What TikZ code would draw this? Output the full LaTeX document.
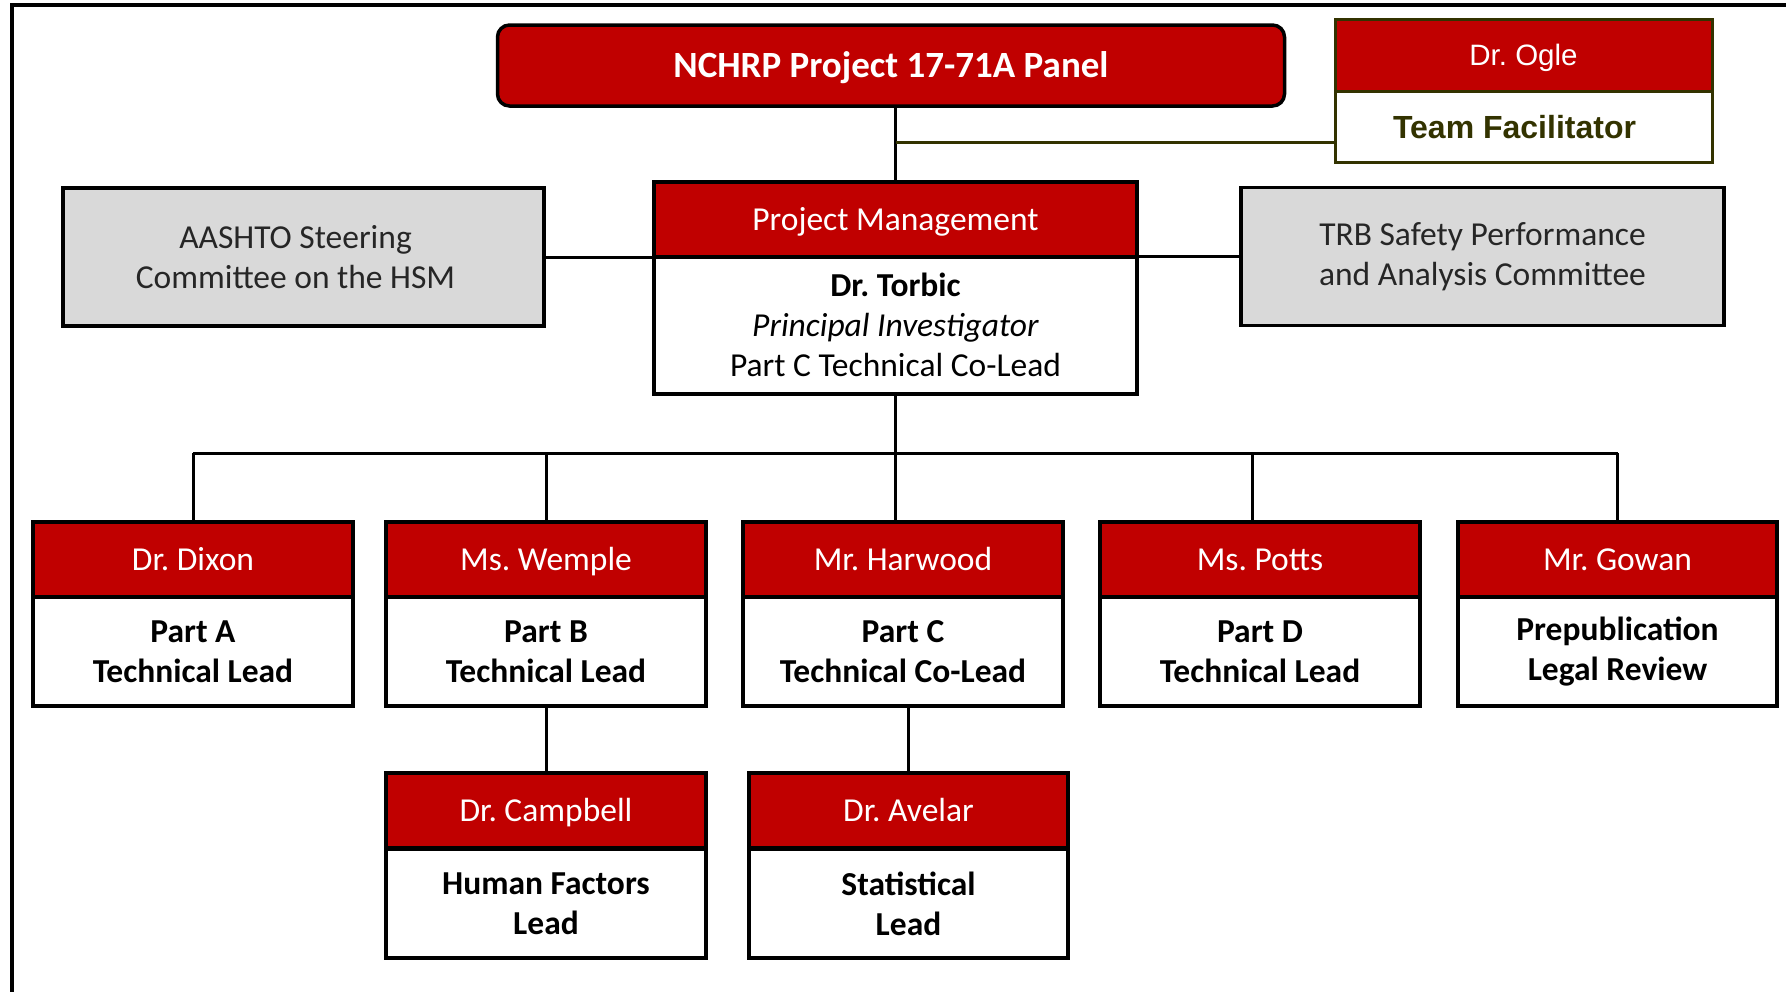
\documentclass[tikz,border=0pt]{standalone}
\usepackage{fontspec}
\setmainfont{Carlito}
\newfontfamily\arialf{Liberation Sans}
\definecolor{hdr}{HTML}{C00000}
\definecolor{gry}{HTML}{D9D9D9}
\definecolor{olv}{HTML}{333300}
\definecolor{dgr}{HTML}{262626}
\begin{document}
\frenchspacing
\begin{tikzpicture}[x=1pt,y=-1pt,
  box/.style={draw=black, line width=3.5pt, rectangle, inner sep=0pt, align=center},
  hdrbox/.style={box, fill=hdr, text=white, minimum height=75pt, text height=21.5pt, text depth=0pt,
    font=\fontsize{33.5}{40}\selectfont},
  bodybox/.style={box, fill=white, minimum height=109pt, font=\bfseries\fontsize{33.5}{40}\selectfont},
  graybox/.style={box, fill=gry, text=dgr, minimum width=481pt, minimum height=138pt, font=\fontsize{33.5}{40}\selectfont},
  conn/.style={line width=3pt, draw=black}]
\useasboundingbox (0,0) rectangle (1786,991);
\draw[line width=3.5pt] (12,995) -- (12,5) -- (1790,5);

% top panel
\node[box, rounded corners=12pt, fill=hdr, text=white, minimum width=787pt, minimum height=81pt,
  text height=24pt, text depth=0pt,
  font=\bfseries\fontsize{37}{44}\selectfont] (panel) at (891,65.5) {NCHRP Project 17-71A Panel};

% Dr. Ogle
\node[box, draw=olv, line width=3pt, fill=white, text=olv, minimum width=377pt, minimum height=71pt,
  text height=23pt, text depth=0pt,
  font=\arialf\bfseries\fontsize{32}{38}\selectfont] (ogleB) at (1523.5,126.5) {Team Facilitator\kern18pt};
\node[box, draw=olv, line width=3pt, fill=hdr, text=white, minimum width=377pt, minimum height=72pt,
  text height=21pt, text depth=0pt,
  font=\arialf\fontsize{29.5}{35}\selectfont] (ogleH) at (1523.5,55) {Dr. Ogle};

% project management
\node[bodybox, minimum width=483pt, minimum height=138pt, font=\fontsize{33.5}{40}\selectfont] (pmB) at (895.5,325)
  {\textbf{Dr. Torbic}\\\textit{Principal Investigator}\\Part C Technical Co-Lead};
\node[hdrbox, minimum width=483pt] (pmH) at (895.5,219.5) {Project Management};

% side committees
\node[graybox] (aashto) at (303.5,257) {AASHTO Steering\kern16pt\\Committee on the HSM\kern16pt};
\node[graybox, minimum width=483pt] (trb) at (1482.5,256.5) {TRB Safety Performance\\and Analysis Committee};

% row of leads
\node[bodybox, minimum width=320pt] (dixB) at (193,651.5) {Part A\\Technical Lead};
\node[hdrbox, minimum width=320pt] (dixH) at (193,559.5) {Dr. Dixon};
\node[bodybox, minimum width=320pt] (wemB) at (546,651.5) {Part B\\Technical Lead};
\node[hdrbox, minimum width=320pt] (wemH) at (546,559.5) {Ms. Wemple};
\node[bodybox, minimum width=320pt] (harB) at (903,651.5) {Part C\\Technical Co-Lead};
\node[hdrbox, minimum width=320pt] (harH) at (903,559.5) {Mr. Harwood};
\node[bodybox, minimum width=320pt] (potB) at (1260,651.5) {Part D\\Technical Lead};
\node[hdrbox, minimum width=320pt] (potH) at (1260,559.5) {Ms. Potts};
\node[bodybox, minimum width=319pt] (gowB) at (1617.5,651.5) {Prepublication\\Legal Review};
\node[hdrbox, minimum width=319pt] (gowH) at (1617.5,559.5) {Mr. Gowan};

% second row
\node[bodybox, minimum width=320pt] (camB) at (546,903.5) {Human Factors\\Lead};
\node[hdrbox, minimum width=320pt] (camH) at (546,810.5) {Dr. Campbell};
\node[bodybox, minimum width=319pt] (aveB) at (908.5,903.5) {Statistical\\Lead};
\node[hdrbox, minimum width=319pt] (aveH) at (908.5,810.5) {Dr. Avelar};

% connectors
\coordinate (jO) at (895.5,142);
\coordinate (bus) at (895.5,453);
\draw[conn] (pmH.north |- panel.south) -- (pmH.north);
\draw[line width=3pt, draw=olv] (jO) -- (jO -| ogleB.west);
\draw[conn] (aashto.east) -- (aashto.east -| pmH.west);
\draw[conn] (trb.west) -- (trb.west -| pmH.east);
\draw[conn] (pmB.south) -- (bus);
\draw[conn] (bus -| dixH.north) -- (bus -| gowH.north);
\draw[conn] (bus -| dixH.north) -- (dixH.north);
\draw[conn] (bus -| wemH.north) -- (wemH.north);
\draw[conn] (bus) -- (bus |- harH.north);
\coordinate (pd) at (1252,453);
\draw[conn] (pd) -- (pd |- potH.north);
\draw[conn] (bus -| gowH.north) -- (gowH.north);
\draw[conn] (wemB.south) -- (camH.north);
\draw[conn] (aveH.north |- harB.south) -- (aveH.north);
\end{tikzpicture}
\end{document}
